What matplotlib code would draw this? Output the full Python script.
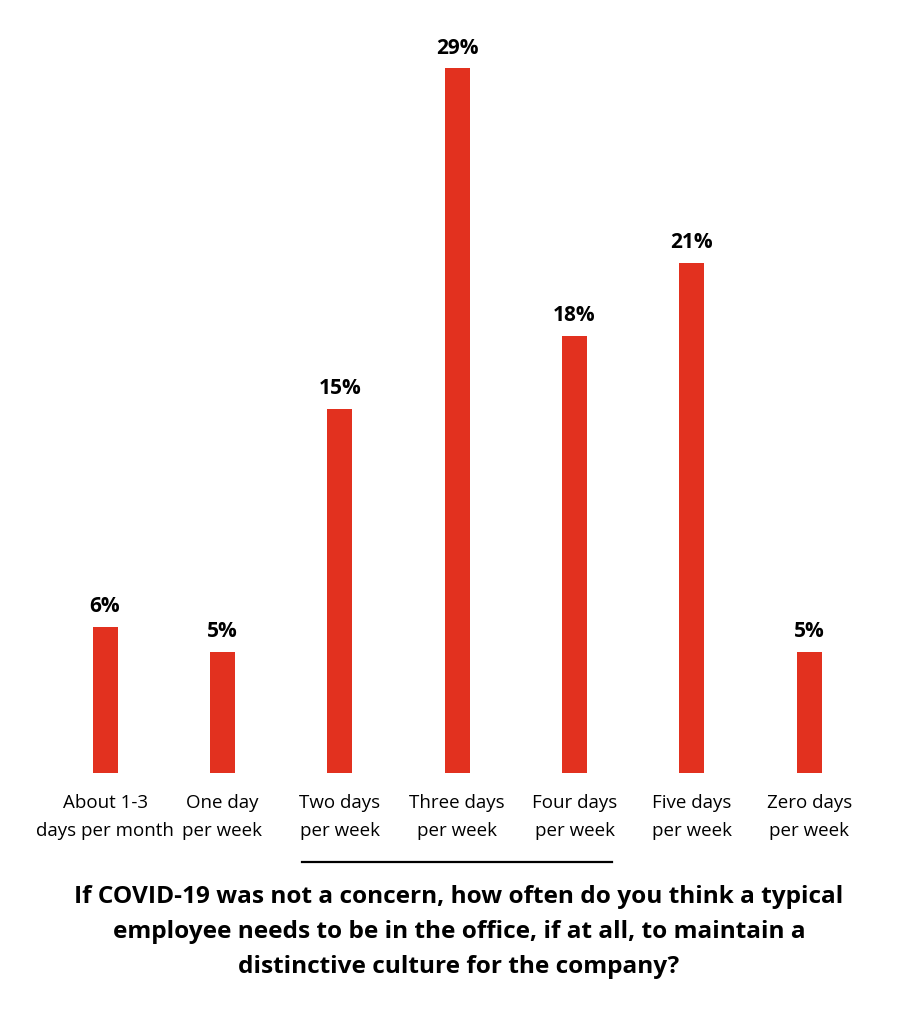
import matplotlib
matplotlib.use("Agg")
import matplotlib.pyplot as plt
from matplotlib.lines import Line2D

categories = ["About 1-3\ndays per month", "One day\nper week", "Two days\nper week",
              "Three days\nper week", "Four days\nper week", "Five days\nper week",
              "Zero days\nper week"]
values = [6, 5, 15, 29, 18, 21, 5]
title = ("If COVID-19 was not a concern, how often do you think a typical\n"
         "employee needs to be in the office, if at all, to maintain a\n"
         "distinctive culture for the company?")

plt.rcParams['font.family'] = ['Open Sans', 'DejaVu Sans']
bar_color = '#E2311F'

W, H = 915, 1024
fig = plt.figure(figsize=(W / 100, H / 100), dpi=100)
# axes: bottom at baseline y=773px, top at y=40px
ax = fig.add_axes([0, 1 - 773 / H, 1, (773 - 40) / H])

x = list(range(len(values)))
ax.bar(x, values, width=0.213, color=bar_color)
ax.set_xlim(-0.895, 6.9)
ax.set_ylim(0, (773 - 40) / 24.3)

for xi, v in zip(x, values):
    ax.annotate(f"{v}%", (xi, v), xytext=(0, 7), textcoords='offset points',
                ha='center', va='bottom', fontsize=15, fontweight='bold')

ax.set_xticks(x)
ax.set_xticklabels(categories, fontsize=13.5, linespacing=1.7)
ax.tick_params(axis='x', length=0, pad=15)
ax.set_yticks([])
for s in ax.spines.values():
    s.set_visible(False)

fig.add_artist(Line2D([302 / W, 612 / W], [1 - 862 / H, 1 - 862 / H],
                      color='black', linewidth=1.6))
fig.text(459 / W, 1 - 885 / H, title, ha='center', va='top', fontsize=17.6,
         fontweight='bold', linespacing=1.6)

fig.savefig("out.png", dpi=100)
